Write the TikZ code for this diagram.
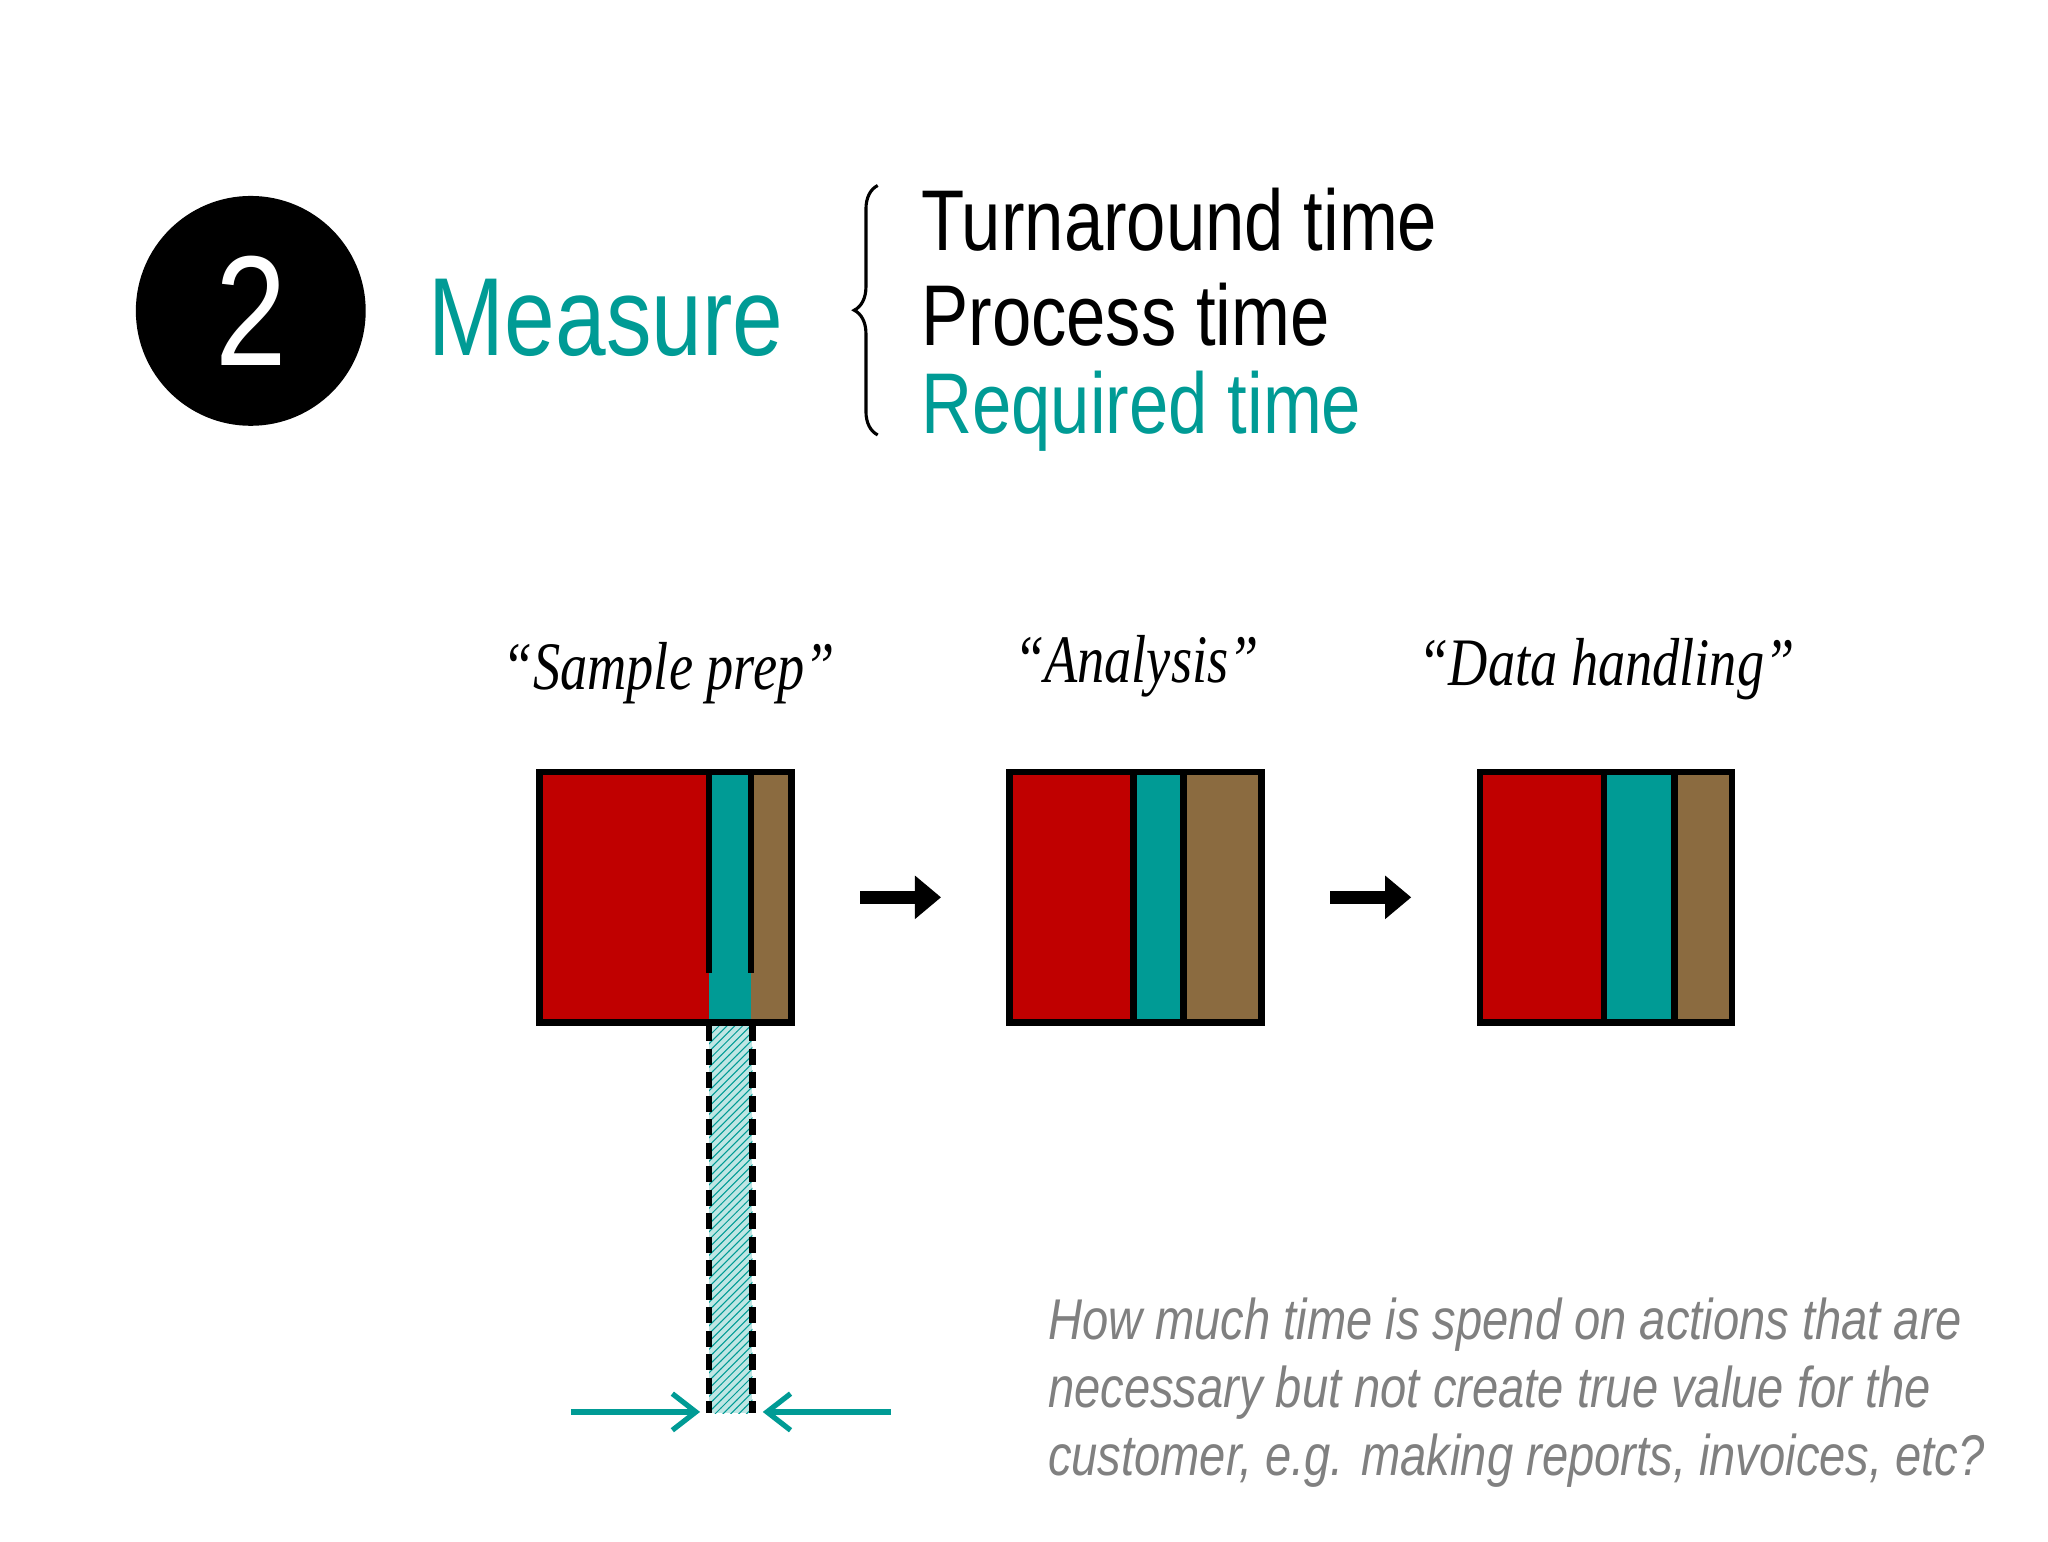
\documentclass[tikz,border=0pt]{standalone}
\usepackage{fontspec}
\setmainfont{Liberation Sans}
\newfontfamily\narrow[FakeStretch=0.82]{Liberation Sans}
\newfontfamily\hand[FakeStretch=0.8]{Liberation Serif}
\usetikzlibrary{patterns,arrows.meta,decorations.pathreplacing}
\definecolor{tealc}{HTML}{009B95}
\definecolor{redc}{HTML}{C00000}
\definecolor{brownc}{HTML}{8B6B40}
\begin{document}
\begin{tikzpicture}[x=0.5pt,y=-0.5pt,
  blk/.style={draw=black,line width=2.5pt},
  hlabel/.style={font=\hand\itshape\fontsize{26}{28}\selectfont},
  item/.style={anchor=west,font=\narrow\fontsize{33}{36}\selectfont,inner sep=0},
  flow/.style={line width=5pt,-{Triangle[length=10pt,width=16pt]}},
  tarrow/.style={draw=tealc,line width=2pt,-{Straight Barb[length=9pt,width=14pt]}}]
\useasboundingbox (0,0) rectangle (1568,1180);
\node[circle,fill=black,minimum size=88pt,inner sep=0,text=white,font=\narrow\fontsize{60}{60}\selectfont] (num) at (192,238) {2};
\node[anchor=west,text=tealc,font=\narrow\fontsize{42.5}{46}\selectfont,inner sep=0] (meas) at (328,243) {Measure};
\coordinate (bt) at (672,142); \coordinate (bb) at (672,333);
\draw[line width=1.2pt,decorate,decoration={brace,amplitude=9pt}] (bb) -- (bt);
\node[item] (t1) at (705,168) {Turnaround time};
\node[item] (t2) at (705,241) {Process time};
\node[item,text=tealc] (t3) at (705,315) {Required time};
\node[hlabel] (l1) at (512,515) {“Sample prep”};
\node[hlabel] (l2) at (870,510) {“Analysis”};
\node[hlabel] (l3) at (1230,512) {“Data handling”};
% hatched strip
\fill[tealc!25] (543,783) rectangle (576,1082);
\fill[pattern=north east lines,pattern color=tealc] (543,783) rectangle (576,1082);
% box 1
\fill[redc] (413,591) rectangle (543,783);
\fill[tealc] (543,591) rectangle (575,783);
\fill[brownc] (575,591) rectangle (606,783);
\draw[blk] (543,591) -- (543,745);
\draw[blk] (575,591) -- (575,745);
\node[blk,minimum width=96.5pt,minimum height=96pt,inner sep=0] (b1) at (509.5,687) {};
% box 2
\fill[redc] (773,591) rectangle (868,783);
\fill[tealc] (868,591) rectangle (906,783);
\fill[brownc] (906,591) rectangle (966,783);
\draw[blk] (868,591) -- (868,783) (906,591) -- (906,783);
\node[blk,minimum width=96.5pt,minimum height=96pt,inner sep=0] (b2) at (869.5,687) {};
% box 3
\fill[redc] (1133,591) rectangle (1228,783);
\fill[tealc] (1228,591) rectangle (1282,783);
\fill[brownc] (1282,591) rectangle (1326,783);
\draw[blk] (1228,591) -- (1228,783) (1282,591) -- (1282,783);
\node[blk,minimum width=96.5pt,minimum height=96pt,inner sep=0] (b3) at (1229.5,687) {};
\draw[flow] ([xshift=25pt]b1.east) -- ([xshift=-25pt]b2.west);
\draw[flow] ([xshift=25pt]b2.east) -- ([xshift=-25pt]b3.west);
% dashed
\coordinate (d1t) at (543,785); \coordinate (d1b) at (543,1082);
\coordinate (d2t) at (576,785); \coordinate (d2b) at (576,1082);
\draw[line width=2.5pt,dash pattern=on 6pt off 3pt] (d1t) -- (d1b);
\draw[line width=2.5pt,dash pattern=on 6pt off 3pt] (d2t) -- (d2b);
\coordinate (a1s) at (437,1081); \coordinate (a1e) at (536,1081);
\coordinate (a2s) at (682,1081); \coordinate (a2e) at (584,1081);
\draw[tarrow] (a1s) -- (a1e);
\draw[tarrow] (a2s) -- (a2e);
\node[anchor=north west,align=left,text=gray,font=\narrow\itshape\fontsize{22}{26}\selectfont,inner sep=0] (q) at (802,993)
 {How much time is spend on actions that are\\necessary but not create true value for the\\customer, e.g. making reports, invoices, etc?};
\end{tikzpicture}
\end{document}
